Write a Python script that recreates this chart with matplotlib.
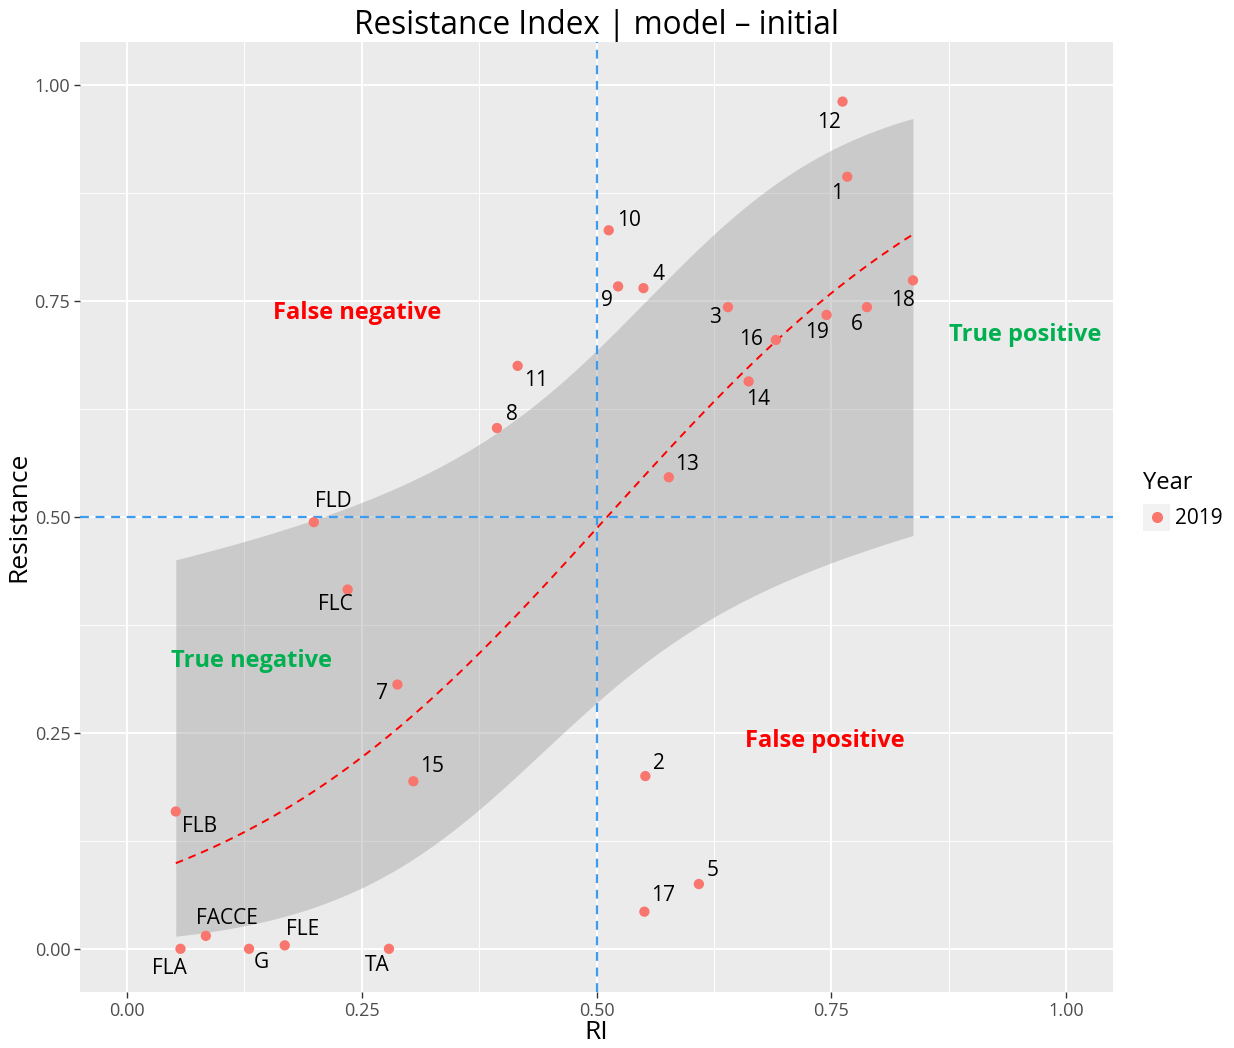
import numpy as np
import matplotlib
matplotlib.use("Agg")
import matplotlib.pyplot as plt
from matplotlib.patches import Rectangle

plt.rcParams["font.family"] = ["Open Sans", "DejaVu Sans"]

# Site scores: RI (x) against observed resistance (y), year 2019
labels = ["12", "1", "10", "9", "4", "3", "18", "6", "19", "16", "14", "11", "8", "13",
          "FLD", "FLC", "7", "15", "2", "5", "17", "FLB", "FACCE", "FLA", "G", "FLE", "TA"]
ri = [0.762, 0.767, 0.513, 0.523, 0.550, 0.640, 0.837, 0.788, 0.745, 0.691, 0.662, 0.416, 0.394, 0.577,
      0.199, 0.235, 0.288, 0.305, 0.552, 0.609, 0.551, 0.052, 0.084, 0.057, 0.130, 0.168, 0.279]
resistance = [0.981, 0.894, 0.832, 0.767, 0.765, 0.743, 0.774, 0.743, 0.734, 0.705, 0.657, 0.675, 0.603, 0.546,
              0.494, 0.416, 0.306, 0.194, 0.200, 0.075, 0.043, 0.159, 0.015, 0.000, 0.000, 0.004, 0.000]

# where each label sits relative to its point (pixels, +y up)
label_offset = {
    "12": (-14, -21), "1": (-10, -17), "10": (20, 10), "9": (-11, -14), "4": (15, 14),
    "3": (-13, -10), "18": (-10, -20), "6": (-10, -17), "19": (-10, -18), "16": (-25, 0),
    "14": (9, -18), "11": (18, -15), "8": (15, 14), "13": (18, 13), "FLD": (19, 21),
    "FLC": (-12, -15), "7": (-15, -9), "15": (19, 15), "2": (14, 13), "5": (14, 14),
    "17": (19, 16), "FLB": (24, -15), "FACCE": (21, 17), "FLA": (-11, -20), "G": (12, -14),
    "FLE": (18, 16), "TA": (-12, -17),
}

quadrants = [("False negative", 0.245, 0.736, "#FF0000"),
             ("True positive", 0.957, 0.711, "#00B050"),
             ("True negative", 0.133, 0.333, "#00B050"),
             ("False positive", 0.743, 0.241, "#FF0000")]


def logistic_fit(x, y, n_iter=50):
    # binomial glm with logit link, fitted by IRLS
    X = np.column_stack([np.ones_like(x), x])
    beta = np.zeros(2)
    for _ in range(n_iter):
        eta = X @ beta
        p = 1.0 / (1.0 + np.exp(-eta))
        w = p * (1 - p)
        z = eta + (y - p) / w
        beta = np.linalg.solve(X.T @ (w[:, None] * X), X.T @ (w * z))
    eta = X @ beta
    p = 1.0 / (1.0 + np.exp(-eta))
    w = p * (1 - p)
    cov = np.linalg.inv(X.T @ (w[:, None] * X))
    return beta, cov


x = np.array(ri)
y = np.array(resistance)
beta, cov = logistic_fit(x, y)
xg = np.linspace(x.min(), x.max(), 100)
Xg = np.column_stack([np.ones_like(xg), xg])
eta_g = Xg @ beta
se_g = np.sqrt(np.sum((Xg @ cov) * Xg, axis=1))
inv = lambda e: 1.0 / (1.0 + np.exp(-e))
fit = inv(eta_g)
lo = inv(eta_g - 1.96 * se_g)
hi = inv(eta_g + 1.96 * se_g)

fig = plt.figure(figsize=(12.34, 10.48), dpi=100)
ax = fig.add_axes([80 / 1234, 1 - 992 / 1048, 1033 / 1234, 950 / 1048])
ax.set_facecolor("#EBEBEB")
for s in ax.spines.values():
    s.set_visible(False)

ax.set_xlim(-0.05, 1.05)
ax.set_ylim(-0.05, 1.05)
ticks = [0, 0.25, 0.5, 0.75, 1.0]
ax.set_xticks(ticks)
ax.set_yticks(ticks)
ax.set_xticklabels(["0.00", "0.25", "0.50", "0.75", "1.00"])
ax.set_yticklabels(["0.00", "0.25", "0.50", "0.75", "1.00"])
ax.set_xticks(np.arange(0.125, 1.0, 0.25), minor=True)
ax.set_yticks(np.arange(0.125, 1.0, 0.25), minor=True)
ax.tick_params(which="major", length=4, width=1, color="#333333", labelsize=13,
               labelcolor="#4D4D4D", pad=3)
ax.tick_params(which="minor", length=0)
ax.grid(which="major", color="white", linewidth=1.4)
ax.grid(which="minor", color="white", linewidth=0.7)
ax.set_axisbelow(True)

ax.fill_between(xg, lo, hi, color="#999999", alpha=0.4, linewidth=0, zorder=2)
ax.plot(xg, fit, color="#FF0000", linestyle=(0, (4, 3)), linewidth=1.4, zorder=3)

ax.axvline(0.5, color="#3D9BF0", linestyle=(0, (4, 3)), linewidth=1.6, zorder=3)
ax.axhline(0.5, color="#3D9BF0", linestyle=(0, (4, 3)), linewidth=1.6, zorder=3)

ax.scatter(x, y, s=55, color="#F8766D", edgecolors="none", zorder=4)
for lab, xi, yi in zip(labels, ri, resistance):
    dx, dy = label_offset[lab]
    ax.annotate(lab, (xi, yi), xytext=(dx, dy), textcoords="offset pixels",
                ha="center", va="center", fontsize=15, color="black", zorder=5)

for txt, qx, qy, col in quadrants:
    ax.text(qx, qy, txt, color=col, fontsize=17, fontweight="bold",
            ha="center", va="center", zorder=5)

ax.set_xlabel("RI", fontsize=19, labelpad=0)
ax.set_ylabel("Resistance", fontsize=19, labelpad=2)
ax.set_title("Resistance Index | model \u2013 initial", fontsize=22.7, pad=3)

# legend
fig.text(1143 / 1234, 1 - 483 / 1048, "Year", fontsize=17, va="center", ha="left")
fig.patches.append(Rectangle((1143 / 1234, 1 - 531 / 1048), 27 / 1234, 27 / 1048,
                             transform=fig.transFigure, facecolor="#F2F2F2", edgecolor="none"))
fig.add_artist(plt.Line2D([1157 / 1234], [1 - 517 / 1048], marker="o", markersize=7,
                          color="#F8766D", linestyle="none", transform=fig.transFigure))
fig.text(1175 / 1234, 1 - 519 / 1048, "2019", fontsize=15, va="center", ha="left")

fig.savefig("out.png", dpi=100)
